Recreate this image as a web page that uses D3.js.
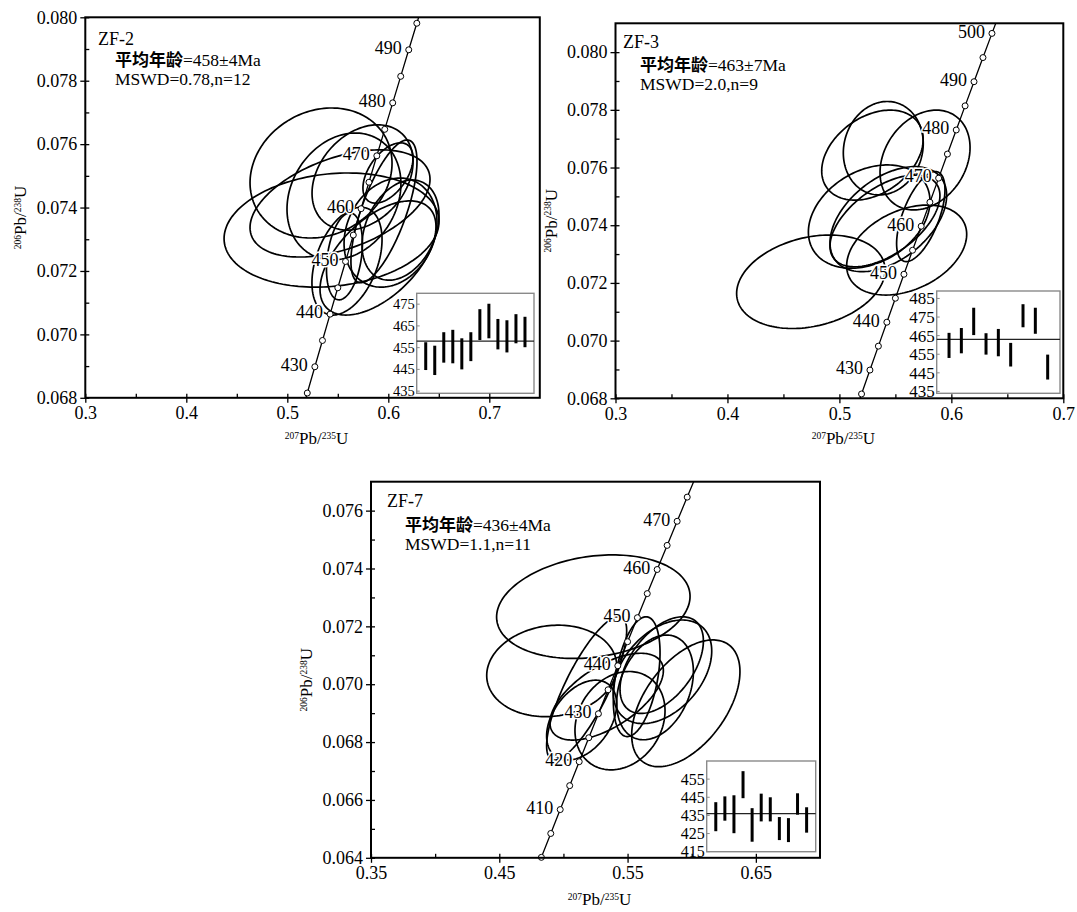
<!DOCTYPE html>
<html><head><meta charset="utf-8">
<script src="https://cdn.jsdelivr.net/npm/d3@7"></script>
<style>
body{margin:0;background:#fff;}
svg text{font-family:"Liberation Serif","Times New Roman",serif;fill:#000;}
</style></head><body>
<svg id="chart" width="1077" height="912"></svg>
<script>
// ---------- Concordia reference points (age in Ma, 207Pb/235U, 206Pb/238U) ----------
const concordiaAge = [400,405,410,415,420,425,430,435,440,445,450,455,460,465,470,475,480,485,490,495,500,505];
const concordiaX = [0.482812,0.490131,0.497487,0.504879,0.512308,0.519773,0.527275,0.534815,0.542391,0.550005,0.557656,0.565345,0.573073,0.580838,0.588642,0.596484,0.604365,0.612284,0.620243,0.628241,0.636279,0.644356];
const concordiaY = [0.064016,0.064841,0.065667,0.066494,0.067322,0.068150,0.068979,0.069808,0.070638,0.071469,0.072300,0.073132,0.073965,0.074798,0.075632,0.076467,0.077302,0.078138,0.078975,0.079812,0.080650,0.081488];

// ---------- ZF-2 ----------
// ellipses: [207Pb/235U, err, 206Pb/238U, err, rho]
const zf2Ellipses = [
  [0.5334,0.0703,0.07509,0.00205,0.15],
  [0.5438,0.1064,0.07329,0.00180,0.15],
  [0.5522,0.0891,0.07413,0.00169,0.45],
  [0.5561,0.0564,0.07435,0.00200,0.20],
  [0.5745,0.0500,0.07495,0.00166,0.30],
  [0.6121,0.0381,0.07329,0.00158,0.30],
  [0.6022,0.0460,0.07321,0.00172,0.20],
  [0.5591,0.0347,0.07231,0.00170,0.40],
  [0.5898,0.0574,0.07241,0.00180,0.55],
  [0.5566,0.0178,0.07246,0.00137,0.30],
  [0.5957,0.0327,0.07388,0.00225,0.70],
  [0.5997,0.0248,0.07509,0.00095,0.50]
];
const zf2AgeLow  = [444.7,442.4,448.1,447.8,445.0,448.8,458.5,459.3,454.2,452.8,457.0,455.2];
const zf2AgeHigh = [457.5,455.9,462.1,463.2,459.3,462.1,472.7,475.2,468.2,467.6,470.4,469.2];
const zf2Mean = 458;
const zf2InsetTicks = [435,445,455,465,475];
const zf2ConcLabels = [430,440,450,460,470,480,490];
const zf2XTicks = [0.3,0.4,0.5,0.6,0.7];
const zf2XMinor = [0.35,0.45,0.55,0.65];
const zf2YTicks = [0.068,0.070,0.072,0.074,0.076,0.078,0.080];
const zf2YMinor = [0.069,0.071,0.073,0.075,0.077,0.079];
const zf2Text = ["ZF-2","=458±4Ma","MSWD=0.78,n=12"];

// ---------- ZF-3 ----------
const zf3Ellipses = [
  [0.4745,0.0663,0.07204,0.00162,0.25],
  [0.5295,0.0453,0.07643,0.00156,0.35],
  [0.5392,0.0357,0.07667,0.00162,0.10],
  [0.5765,0.0402,0.07626,0.00173,0.25],
  [0.5266,0.0543,0.07430,0.00179,0.30],
  [0.5437,0.0521,0.07421,0.00182,0.45],
  [0.5407,0.0491,0.07415,0.00159,0.55],
  [0.5601,0.0536,0.07314,0.00156,0.35],
  [0.5727,0.0216,0.07430,0.00156,0.60]
];
const zf3AgeLow  = [453.0,455.5,465.3,454.8,453.9,448.4,469.5,466.0,441.4];
const zf3AgeHigh = [466.5,469.1,480.0,466.3,468.6,461.1,481.9,480.0,454.8];
const zf3Mean = 463;
const zf3InsetTicks = [435,445,455,465,475,485];
const zf3ConcLabels = [430,440,450,460,470,480,490,500];
const zf3XTicks = [0.3,0.4,0.5,0.6,0.7];
const zf3XMinor = [0.35,0.45,0.55,0.65];
const zf3YTicks = [0.068,0.070,0.072,0.074,0.076,0.078,0.080];
const zf3YMinor = [0.069,0.071,0.073,0.075,0.077,0.079];
const zf3Text = ["ZF-3","=463±7Ma","MSWD=2.0,n=9"];

// ---------- ZF-7 ----------
const zf7Ellipses = [
  [0.5233,0.0754,0.07268,0.00179,0.20],
  [0.4909,0.0507,0.07046,0.00158,0.10],
  [0.5954,0.0422,0.06934,0.00219,0.50],
  [0.5772,0.0384,0.07043,0.00179,0.40],
  [0.5714,0.0299,0.06989,0.00181,0.30],
  [0.5571,0.0182,0.07026,0.00207,0.40],
  [0.5441,0.0351,0.06874,0.00170,0.20],
  [0.5142,0.0273,0.06876,0.00138,0.40],
  [0.5181,0.0312,0.06986,0.00248,0.80],
  [0.5337,0.0442,0.06957,0.00150,0.60],
  [0.5766,0.0325,0.07066,0.00167,0.50]
];
const zf7AgeLow  = [426.3,432.1,425.2,444.5,420.5,431.7,431.7,421.4,420.3,435.4,425.5];
const zf7AgeHigh = [442.3,445.5,446.1,459.4,439.0,447.0,445.0,434.1,433.5,447.2,439.5];
const zf7Mean = 436;
const zf7InsetTicks = [415,425,435,445,455];
const zf7ConcLabels = [410,420,430,440,450,460,470];
const zf7XTicks = [0.35,0.45,0.55,0.65];
const zf7XMinor = [0.40,0.50,0.60];
const zf7YTicks = [0.064,0.066,0.068,0.070,0.072,0.074,0.076];
const zf7YMinor = [0.065,0.067,0.069,0.071,0.073,0.075];
const zf7Text = ["ZF-7","=436±4Ma","MSWD=1.1,n=11"];

const cjkLabel = "平均年龄";

// ---------- layout (positions only) ----------
const panels = [
  {key:"a", ellipses:zf2Ellipses, low:zf2AgeLow, high:zf2AgeHigh, mean:zf2Mean, insetTicks:zf2InsetTicks,
   concLabels:zf2ConcLabels, xTicks:zf2XTicks, xMinor:zf2XMinor, yTicks:zf2YTicks, yMinor:zf2YMinor, text:zf2Text,
   xDomain:[0.3,0.75], yDomain:[0.068,0.080], insetDomain:[434,480], xFmt:".1f",
   left:85.3, right:539.8, top:17.3, bottom:397.8,
   inset:{left:416.7,right:534,top:293.3,bottom:393.3,font:14.5},
   txt:{zx:98,zy:45,sx:115,sy1:66,sy2:85}, xTitleY:444},
  {key:"b", ellipses:zf3Ellipses, low:zf3AgeLow, high:zf3AgeHigh, mean:zf3Mean, insetTicks:zf3InsetTicks,
   concLabels:zf3ConcLabels, xTicks:zf3XTicks, xMinor:zf3XMinor, yTicks:zf3YTicks, yMinor:zf3YMinor, text:zf3Text,
   xDomain:[0.3,0.7], yDomain:[0.068,0.081], insetDomain:[434,489], xFmt:".1f",
   left:615.5, right:1063.3, top:23.3, bottom:398.3,
   inset:{left:936.7,right:1060,top:291,bottom:393.3,font:17},
   txt:{zx:623,zy:48.3,sx:640,sy1:70.5,sy2:89.5}, xTitleY:444},
  {key:"c", ellipses:zf7Ellipses, low:zf7AgeLow, high:zf7AgeHigh, mean:zf7Mean, insetTicks:zf7InsetTicks,
   concLabels:zf7ConcLabels, xTicks:zf7XTicks, xMinor:zf7XMinor, yTicks:zf7YTicks, yMinor:zf7YMinor, text:zf7Text,
   xDomain:[0.35,0.70], yDomain:[0.064,0.077], insetDomain:[415,465], xFmt:".2f",
   left:371, right:820, top:481.7, bottom:857.8,
   inset:{left:706.7,right:815.7,top:761,bottom:851.7,font:16},
   txt:{zx:387,zy:506.7,sx:405,sy1:531,sy2:550}, xTitleY:905}
];

const svg = d3.select("#chart");
const defs = svg.append("defs");
const SERIF = '"Liberation Serif","Times New Roman",serif';

function addTitle(sel, parts) {
  parts.forEach(([t, sup], i) => {
    const prevSup = i > 0 && parts[i-1][1];
    let dy = 0;
    if (sup && !prevSup) dy = -5.5;
    if (!sup && prevSup) dy = 5.5;
    sel.append("tspan").attr("font-size", sup ? 9.5 : 17).attr("dy", dy).text(t);
  });
}

function drawPanel(p) {
  const x = d3.scaleLinear().domain(p.xDomain).range([p.left, p.right]);
  const y = d3.scaleLinear().domain(p.yDomain).range([p.bottom, p.top]);
  const g = svg.append("g");
  const clipId = "clip-" + p.key;
  defs.append("clipPath").attr("id", clipId).append("rect")
    .attr("x", p.left).attr("y", p.top).attr("width", p.right - p.left).attr("height", p.bottom - p.top);
  const plot = g.append("g").attr("clip-path", `url(#${clipId})`);
  const lineGen = d3.line().x(d => x(d[0])).y(d => y(d[1]));

  // error ellipses
  plot.selectAll("path.ell").data(p.ellipses).join("path").attr("class", "ell")
    .attr("d", e => {
      const n = 160, r = e[4], q = Math.sqrt(1 - r * r);
      const pts = d3.range(n + 1).map(i => {
        const t = i / n * 2 * Math.PI;
        return [e[0] + e[1] * Math.cos(t), e[2] + e[3] * (r * Math.cos(t) + q * Math.sin(t))];
      });
      return lineGen(pts) + "Z";
    })
    .attr("fill", "none").attr("stroke", "#000").attr("stroke-width", 1.7);

  // concordia curve
  const conc = concordiaAge.map((a, i) => [concordiaX[i], concordiaY[i], a]);
  plot.append("path").attr("d", lineGen(conc)).attr("fill", "none")
    .attr("stroke", "#000").attr("stroke-width", 1.3);

  const visible = conc.filter(d => d[1] >= p.yDomain[0] - 1e-5 && d[1] <= p.yDomain[1]);
  // age labels
  g.selectAll("text.cl").data(visible.filter(d => p.concLabels.includes(d[2]))).join("text").attr("class", "cl")
    .attr("x", d => x(d[0]) - 7).attr("y", d => y(d[1]) - 2).attr("dy", "0.35em")
    .attr("text-anchor", "end").attr("font-size", 18)
    .attr("stroke", "#fff").attr("stroke-width", 3).attr("paint-order", "stroke")
    .text(d => d[2]);
  // age markers
  g.selectAll("circle.cm").data(visible).join("circle").attr("class", "cm")
    .attr("cx", d => x(d[0])).attr("cy", d => y(d[1])).attr("r", 3)
    .attr("fill", "#fff").attr("stroke", "#000").attr("stroke-width", 1);

  // inset weighted-mean plot
  const n = p.low.length;
  const ix = d3.scaleLinear().domain([0, n + 1]).range([p.inset.left, p.inset.right]);
  const iy = d3.scaleLinear().domain(p.insetDomain).range([p.inset.bottom, p.inset.top]);
  const ins = g.append("g");
  ins.append("rect").attr("x", p.inset.left).attr("y", p.inset.top)
    .attr("width", p.inset.right - p.inset.left).attr("height", p.inset.bottom - p.inset.top)
    .attr("fill", "#fff").attr("stroke", "#8a8a8a").attr("stroke-width", 1.4);
  ins.selectAll("line.it").data(p.insetTicks).join("line").attr("class", "it")
    .attr("x1", p.inset.left).attr("x2", p.inset.left + 3)
    .attr("y1", d => iy(d)).attr("y2", d => iy(d)).attr("stroke", "#8a8a8a").attr("stroke-width", 1);
  ins.append("line").attr("x1", p.inset.left).attr("x2", p.inset.right)
    .attr("y1", iy(p.mean)).attr("y2", iy(p.mean)).attr("stroke", "#222").attr("stroke-width", 1.4);
  ins.selectAll("line.bar").data(p.low.map((l, i) => [i + 1, l, p.high[i]])).join("line").attr("class", "bar")
    .attr("x1", d => ix(d[0])).attr("x2", d => ix(d[0]))
    .attr("y1", d => iy(d[1])).attr("y2", d => iy(d[2]))
    .attr("stroke", "#000").attr("stroke-width", 3);
  ins.selectAll("text.il").data(p.insetTicks).join("text").attr("class", "il")
    .attr("x", p.inset.left - 2).attr("y", d => iy(d)).attr("dy", "0.35em")
    .attr("text-anchor", "end").attr("font-size", p.inset.font).text(d => d);

  // axes
  const fmtX = d3.format(p.xFmt), fmtY = d3.format(".3f");
  const xa = g.append("g").attr("transform", `translate(0,${p.bottom})`)
    .call(d3.axisBottom(x).tickValues(p.xTicks).tickSize(5).tickPadding(3.5).tickFormat(fmtX));
  xa.select(".domain").remove();
  xa.selectAll(".tick line").attr("y1", -4).attr("stroke-width", 1.3);
  xa.attr("font-size", 18).attr("font-family", SERIF);
  const xm = g.append("g").attr("transform", `translate(0,${p.bottom})`)
    .call(d3.axisBottom(x).tickValues(p.xMinor).tickSize(-4).tickFormat(""));
  xm.select(".domain").remove();
  xm.selectAll(".tick line").attr("stroke-width", 1.3);

  const ya = g.append("g").attr("transform", `translate(${p.left},0)`)
    .call(d3.axisLeft(y).tickValues(p.yTicks).tickSize(5).tickPadding(3).tickFormat(fmtY));
  ya.select(".domain").remove();
  ya.selectAll(".tick line").attr("x1", 4).attr("stroke-width", 1.3);
  ya.attr("font-size", 18).attr("font-family", SERIF);
  const ym = g.append("g").attr("transform", `translate(${p.left},0)`)
    .call(d3.axisLeft(y).tickValues(p.yMinor).tickSize(-4).tickFormat(""));
  ym.select(".domain").remove();
  ym.selectAll(".tick line").attr("stroke-width", 1.3);

  // frame
  g.append("rect").attr("x", p.left).attr("y", p.top)
    .attr("width", p.right - p.left).attr("height", p.bottom - p.top)
    .attr("fill", "none").attr("stroke", "#000").attr("stroke-width", 2);

  // annotation
  g.append("text").attr("x", p.txt.zx).attr("y", p.txt.zy).attr("font-size", 18).text(p.text[0]);
  const t2 = g.append("text").attr("x", p.txt.sx).attr("y", p.txt.sy1).attr("font-size", 17.5);
  t2.append("tspan").attr("font-family", '"Noto Sans CJK SC",sans-serif').attr("font-weight", "bold")
    .attr("font-size", 17).text(cjkLabel);
  t2.append("tspan").text(p.text[1]);
  g.append("text").attr("x", p.txt.sx).attr("y", p.txt.sy2).attr("font-size", 17.5).text(p.text[2]);

  // axis titles
  const cx = (p.left + p.right) / 2 + 4;
  const xt = g.append("text").attr("x", cx).attr("y", p.xTitleY).attr("text-anchor", "middle");
  addTitle(xt, [["207", true], ["Pb/", false], ["235", true], ["U", false]]);
  const cy = (p.top + p.bottom) / 2 + 10;
  const yx = p.left - 59;
  const yt = g.append("text").attr("transform", `translate(${yx},${cy}) rotate(-90)`).attr("text-anchor", "middle");
  addTitle(yt, [["206", true], ["Pb/", false], ["238", true], ["U", false]]);
}

panels.forEach(drawPanel);
</script></body></html>
